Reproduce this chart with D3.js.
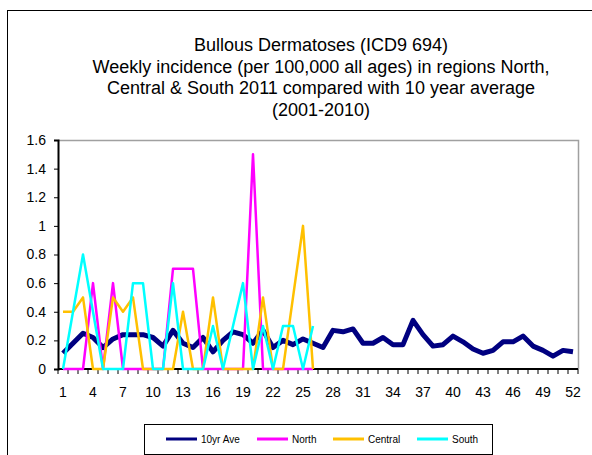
<!DOCTYPE html>
<html><head><meta charset="utf-8">
<script src="https://cdn.jsdelivr.net/npm/d3@7"></script>
<style>body{margin:0;background:#fff}svg{display:block;font-family:"Liberation Sans",Arial,sans-serif}</style>
</head><body><svg id="c" width="592" height="455"></svg>
<script>
const weeks = d3.range(1, 53);
const avg10 = [0.11,0.18,0.25,0.22,0.15,0.21,0.24,0.24,0.24,0.22,0.16,0.27,0.18,0.15,0.22,0.12,0.2,0.26,0.24,0.18,0.27,0.15,0.2,0.17,0.21,0.18,0.15,0.27,0.26,0.28,0.18,0.18,0.22,0.17,0.17,0.34,0.24,0.16,0.17,0.23,0.19,0.14,0.11,0.13,0.19,0.19,0.23,0.16,0.13,0.09,0.13,0.12];
const north = [0,0,0,0.6,0,0.6,0,0,0,0,0,0.7,0.7,0.7,0,0,0,0,0,1.5,0,0,0,0,0,0];
const central = [0.4,0.4,0.5,0,0,0.5,0.4,0.5,0,0,0,0,0.4,0,0,0.5,0,0,0,0,0.5,0,0,0.5,1.0,0];
const south = [0,0.4,0.8,0.4,0,0,0,0.6,0.6,0,0,0.6,0,0,0,0.3,0,0.3,0.6,0,0.3,0,0.3,0.3,0,0.3];
const yTicks = [0,0.2,0.4,0.6,0.8,1,1.2,1.4,1.6];
const seriesNames = ["10yr Ave","North","Central","South"];
const seriesColors = ["#000080","#FF00FF","#FFC000","#00FFFF"];
const seriesData = [avg10, north, central, south];
const titleLines = ["Bullous Dermatoses (ICD9 694)","Weekly incidence (per 100,000 all ages) in regions North,","Central & South 2011 compared with 10 year average","(2001-2010)"];

const svg = d3.select("#c");
svg.append("rect").attr("x",7.5).attr("y",10.5).attr("width",600).attr("height",460)
  .attr("fill","#fff").attr("stroke","#000").attr("stroke-width",1);

const L=58,R=578,T=140,B=369;
const x = d3.scalePoint().domain(weeks).range([L,R]).padding(0.5);
const xb = d3.scaleBand().domain(weeks).range([L,R]);
const y = d3.scaleLinear().domain([0,1.6]).range([B,T]);

// title
const tt = svg.append("text").attr("text-anchor","middle").attr("font-size",18).attr("fill","#000");
titleLines.forEach((s,i)=>tt.append("tspan").attr("x",321).attr("y",51+i*21.7).text(s));

// plot border top/right
svg.append("path").attr("d",`M${L},${T+0.5}H${R+0.5}V${B}`).attr("fill","none").attr("stroke","#a0a0a0").attr("stroke-width",1.5);

// y axis
const ya = svg.append("g").attr("transform",`translate(${L},0)`)
  .call(d3.axisLeft(y).tickValues(yTicks).tickSize(4).tickPadding(8).tickFormat(d=>d3.format("")(d)));
ya.select(".domain").attr("stroke","#000").attr("stroke-width",2);
ya.selectAll(".tick line").attr("stroke","#000");
ya.selectAll("text").attr("font-size",14).attr("font-family","Liberation Sans, Arial, sans-serif").attr("fill","#000");

// x axis: ticks at band boundaries
const xa = svg.append("g").attr("transform",`translate(0,${B})`);
xa.append("line").attr("x1",L).attr("x2",R).attr("stroke","#000").attr("stroke-width",2);
xa.selectAll("line.tk").data(weeks.concat([53])).join("line").attr("class","tk")
  .attr("x1",d=>d<=52?xb(d):R).attr("x2",d=>d<=52?xb(d):R).attr("y1",0).attr("y2",5).attr("stroke","#000");
xa.selectAll("text").data(weeks.filter(d=>(d-1)%3===0)).join("text")
  .attr("x",d=>x(d)).attr("y",28).attr("text-anchor","middle").attr("font-size",14).attr("fill","#000").text(d=>d);

// lines
const line = d3.line().x((d,i)=>x(weeks[i])).y(d=>y(d));
seriesData.forEach((data,k)=>{
  svg.append("path").datum(data).attr("d",line).attr("fill","none")
    .attr("stroke",seriesColors[k]).attr("stroke-width",k===0?5:2.5).attr("stroke-linejoin","round");
});

// legend
svg.append("rect").attr("x",144.5).attr("y",424.5).attr("width",348).attr("height",30).attr("fill","#fff").attr("stroke","#000");
const lx=[166,257,333,417];
const lg = svg.append("g").selectAll("g").data(seriesNames).join("g").attr("transform",(d,i)=>`translate(${lx[i]},439)`);
lg.append("line").attr("x1",0).attr("x2",31).attr("stroke",(d,i)=>seriesColors[i]).attr("stroke-width",3);
lg.append("text").attr("x",35).attr("y",3.5).attr("font-size",10).attr("fill","#000").text(d=>d);
</script></body></html>
